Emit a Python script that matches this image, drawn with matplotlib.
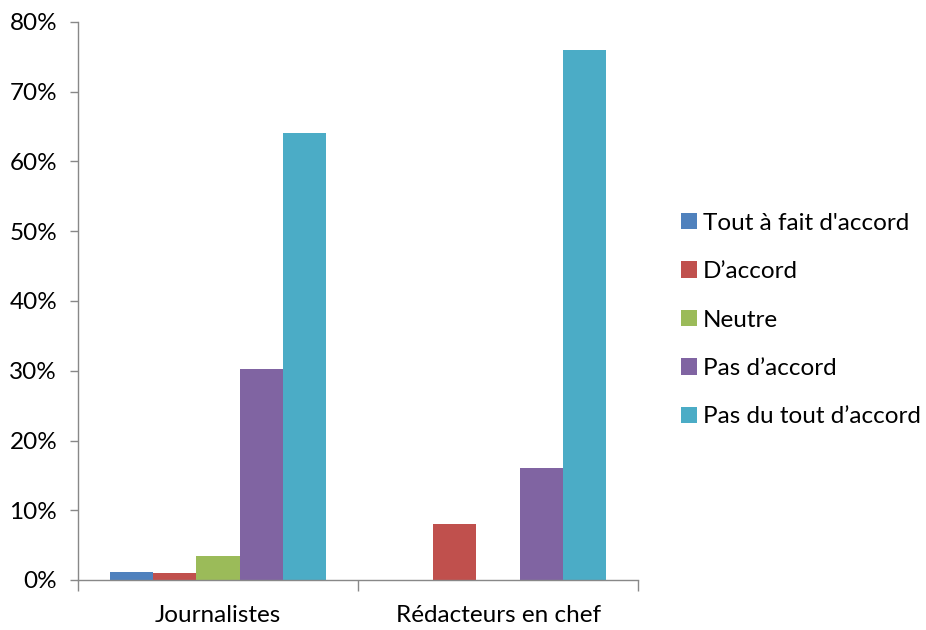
import numpy as np
import matplotlib.pyplot as plt
from matplotlib.patches import Patch
from matplotlib.ticker import FuncFormatter, MultipleLocator

plt.rcParams['font.family'] = ['Lato', 'DejaVu Sans']

groups = ["Journalistes", "Rédacteurs en chef"]
answers = ["Tout à fait d'accord", "D’accord", "Neutre", "Pas d’accord", "Pas du tout d’accord"]
colors = ["#4F81BD", "#C0504D", "#9BBB59", "#8064A2", "#4BACC6"]

# percent per answer, [Journalistes, Rédacteurs en chef]
tout_a_fait = [1.1, 0.0]
d_accord = [1.0, 8.0]
neutre = [3.4, 0.0]
pas_d_accord = [30.3, 16.0]
pas_du_tout = [64.1, 76.0]
series = [tout_a_fait, d_accord, neutre, pas_d_accord, pas_du_tout]

fig = plt.figure(figsize=(9.26, 6.3), dpi=100)
ax = fig.add_axes([78 / 926, 1 - 580 / 630, 560 / 926, 558 / 630])

x = np.arange(len(groups))
n = len(series)
w = 1 / (n + 1.5)  # Excel-style 150% gap
for i, (vals, c) in enumerate(zip(series, colors)):
    ax.bar(x + (i - (n - 1) / 2) * w, vals, width=w, color=c, linewidth=0)

ax.set_xlim(-0.5, len(groups) - 0.5)
ax.set_ylim(0, 80)
ax.yaxis.set_major_locator(MultipleLocator(10))
ax.yaxis.set_major_formatter(FuncFormatter(lambda v, p: f"{v:.0f}%"))

ax.set_xticks(x)
ax.set_xticklabels(groups)
ax.set_xticks([-0.5, 0.5, 1.5], minor=True)
ax.tick_params(axis='x', which='major', length=0, pad=18, labelsize=17.5)
ax.tick_params(axis='x', which='minor', length=8, direction='out', color='#888888', width=1)
ax.tick_params(axis='y', length=6, direction='out', color='#888888', width=1, labelsize=17.5, pad=9)

for s in ['top', 'right']:
    ax.spines[s].set_visible(False)
for s in ['left', 'bottom']:
    ax.spines[s].set_color('#888888')
    ax.spines[s].set_linewidth(1)

handles = [Patch(facecolor=c, edgecolor='none') for c in colors]
fig.legend(handles, answers, loc='center left', bbox_to_anchor=(681 / 926, 0.492),
           frameon=False, fontsize=17.5, handlelength=0.66, handleheight=0.66,
           handletextpad=0.25, labelspacing=1.13, borderaxespad=0, borderpad=0)

fig.savefig("out.png", dpi=100)
